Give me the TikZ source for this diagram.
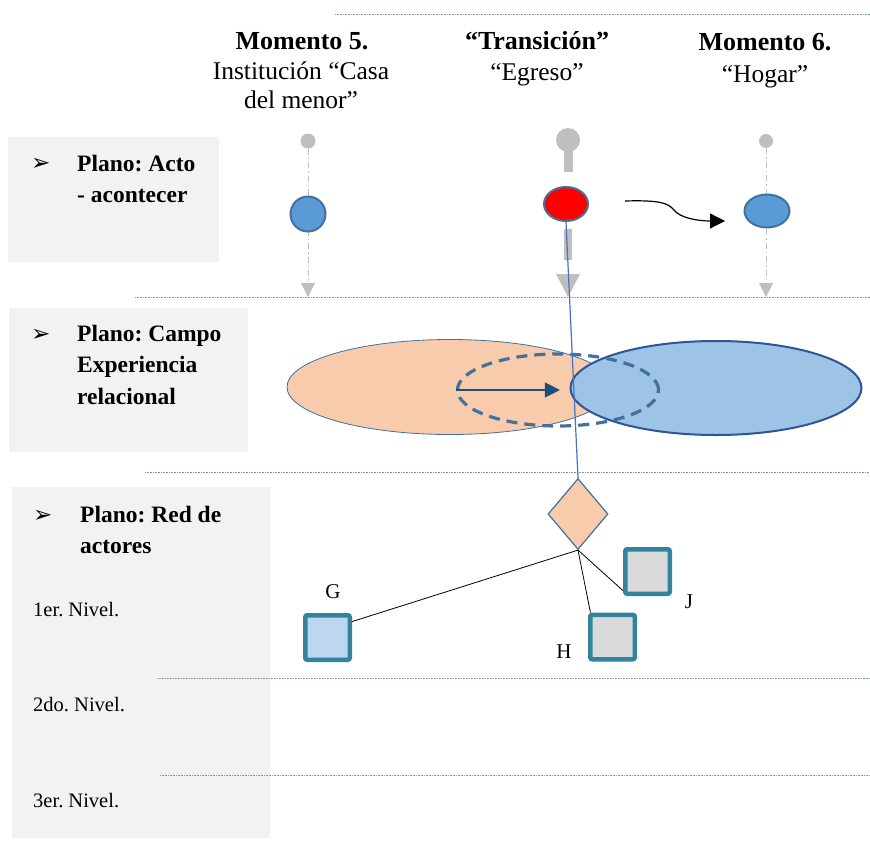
\documentclass[tikz,border=0pt]{standalone}
\usepackage{fontspec}
\setmainfont{Liberation Serif}
\newfontfamily\symfont{DejaVu Sans}
\usepackage{tikz}
\usetikzlibrary{arrows.meta,positioning,calc,shapes.geometric}
\definecolor{Panel}{HTML}{F2F2F2}
\definecolor{Rule}{HTML}{8497B0}
\definecolor{PinGray}{HTML}{BFBFBF}
\definecolor{ActBlue}{HTML}{5B9BD5}
\definecolor{ActEdge}{HTML}{41719C}
\definecolor{Peach}{HTML}{F8CBAD}
\definecolor{FieldBlue}{HTML}{9DC3E6}
\definecolor{FieldEdge}{HTML}{2F5597}
\definecolor{DarkBlue}{HTML}{1F4E79}
\definecolor{LinkBlue}{HTML}{4472C4}
\definecolor{Teal}{HTML}{31849B}
\definecolor{ActorBlue}{HTML}{BDD7EE}
\definecolor{ActorGray}{HTML}{D9D9D9}
\frenchspacing

\begin{document}
\begin{tikzpicture}[x=1pt, y=-1pt, >=Latex]
\tikzset{hd/.style={font=\fontsize{26}{30}\selectfont\bfseries, anchor=base, inner sep=0}, sub/.style={font=\fontsize{25.5}{30}\selectfont, anchor=base, inner sep=0}, pl/.style={font=\fontsize{23.5}{28}\selectfont\bfseries, anchor=base west, inner sep=0}, lv/.style={font=\fontsize{20.5}{24}\selectfont, anchor=base west, inner sep=0}, bul/.style={font=\symfont\fontsize{23}{25}\selectfont, anchor=base west, inner sep=0}, act/.style={ellipse, draw=ActEdge, line width=2pt, fill=ActBlue, inner sep=0}, pinhead/.style={circle, fill=PinGray, inner sep=0}, guide/.style={draw=PinGray, line width=1pt, dash pattern=on 6pt off 3pt on 1.5pt off 3pt}, actor/.style={draw=Teal, line width=4.5pt, rounded corners=2pt, minimum size=44.5pt, inner sep=0}, lbl/.style={font=\fontsize{21}{24}\selectfont, inner sep=0}, rule/.style={draw=Rule, line width=.8pt, dash pattern=on .8pt off .8pt}, tip/.style={-{Triangle[width=#1,length=#1]}}}
\useasboundingbox (0,0) rectangle (870,859);
\fill[Panel] (8,137) rectangle (219,262);
\fill[Panel] (9,308) rectangle (248,452);
\fill[Panel] (12,487) rectangle (270,838);
\foreach \y/\x in {14/335, 297/135, 472/145, 678/157, 775/160} \draw[rule] (\x,\y) -- (870,\y);
\node[hd] (mom5) at (302,49) {Momento 5.};
\node[sub] (mom5b) at (301,79) {Institución “Casa};
\node[sub] (mom5c) at (301,108) {del menor”};
\node[hd] (trans) at (537,49) {“Transición”};
\node[sub] (transb) at (537,81) {“Egreso”};
\node[hd] (mom6) at (765,51) {Momento 6.};
\node[sub] (mom6b) at (765,82) {“Hogar”};
\node[bul] (bul1) at (31,170) {➢};
\node[pl] (acto) at (77,171) {Plano: Acto};
\node[pl] (actob) at (77,202) {- acontecer};
\node[bul] (bul2) at (31,341) {➢};
\node[pl] (campo) at (77,341) {Plano: Campo};
\node[pl] (campob) at (77,372) {Experiencia};
\node[pl] (campoc) at (77,404) {relacional};
\node[bul] (bul3) at (33,522) {➢};
\node[pl] (red) at (80,522) {Plano: Red de};
\node[pl] (redb) at (80,553) {actores};
\node[lv] (niv1) at (33,616) {1er. Nivel.};
\node[lv] (niv2) at (33,711) {2do. Nivel.};
\node[lv] (niv3) at (33,807) {3er. Nivel.};
\node[pinhead, minimum size=15pt] (pin5) at (308,141) {};
\node[pinhead, minimum size=24pt] (pinT) at (568,140) {};
\node[pinhead, minimum size=14pt] (pin6) at (766,141) {};
\coordinate (end5) at (308,297);
\coordinate (end6) at (766,297);
\draw[guide, tip=14pt] (pin5) -- (end5);
\draw[guide, tip=14pt] (pin6) -- (end6);
\fill[PinGray] (563.5,150) rectangle (572.5,172);
\fill[PinGray] (563.5,229) rectangle (571.5,260);
\fill[PinGray] (556,274) -- (580,274) -- (568,297) -- cycle;
\node[act, minimum width=35pt, minimum height=35pt] (act5) at (308,214) {};
\node[act, fill=red, minimum width=44pt, minimum height=34pt] (actT) at (566,204) {};
\node[act, minimum width=45pt, minimum height=33pt] (act6) at (767,211) {};
\coordinate (go) at (625,201);
\coordinate (arrive) at (725,221);
\draw[line width=1.2pt, tip=15pt] (go) .. controls (660,200) and (668,203) .. (674,210) .. controls (680,218) and (698,221) .. (arrive);
\node[ellipse, fill=Peach, draw=ActEdge, line width=.8pt, minimum width=326pt, minimum height=95pt, inner sep=0] (cam5) at (450,387) {};
\node[ellipse, fill=FieldBlue, draw=FieldEdge, line width=2pt, minimum width=291pt, minimum height=94pt, inner sep=0] (cam6) at (716,388) {};
\node[ellipse, draw=ActEdge, line width=3.2pt, dash pattern=on 11pt off 7pt, minimum width=201pt, minimum height=72pt, inner sep=0] (camT) at (558,390) {};
\coordinate (shift) at ($(camT.west)+(104,0)$);
\draw[DarkBlue, line width=1.2pt, tip=15pt] (camT.west) -- (shift);
\node[diamond, fill=Peach, draw=ActEdge, line width=1.2pt, minimum width=60pt, minimum height=71pt, inner sep=0] (ego) at (578,514) {};
\draw[LinkBlue, line width=1.2pt] (actT.south) -- (ego.north);
\node[actor, fill=ActorBlue] (actG) at (327.5,637.5) {};
\node[actor, fill=ActorGray] (actJ) at (647.5,571.5) {};
\node[actor, fill=ActorGray] (actH) at (612.5,637) {};
\foreach \t in {actG.33, actJ.218, actH.132} \draw[line width=.8pt] (ego.south) -- (\t);
\node[lbl] (labG) at (333,592) {G};
\node[lbl] (labJ) at (689,602) {J};
\node[lbl] (labH) at (564,652) {H};
\end{tikzpicture}
\end{document}
